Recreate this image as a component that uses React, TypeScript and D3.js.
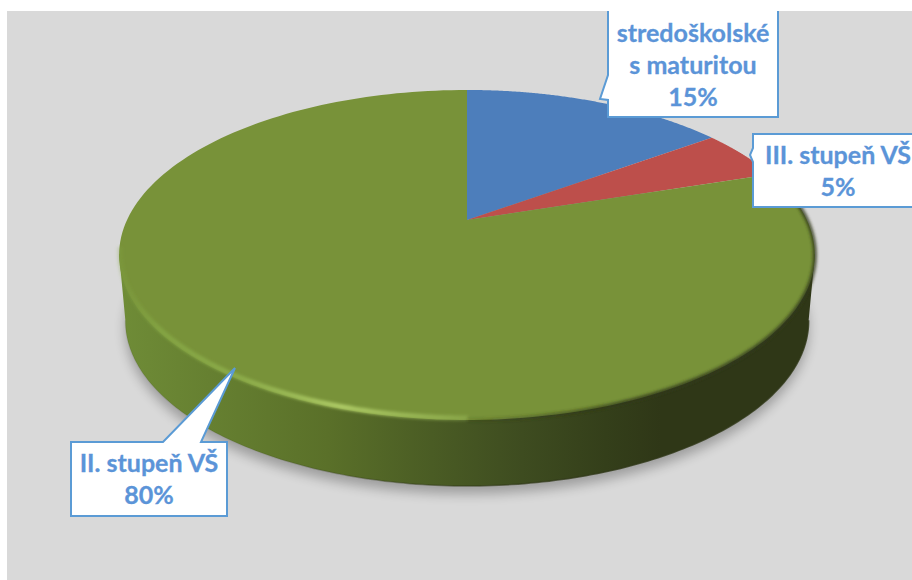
import React, { useMemo } from "react";
import * as d3 from "d3";

const categories = ["stredoškolské s maturitou", "III. stupeň VŠ", "II. stupeň VŠ"];
const shares = [15, 5, 80];
const sliceColors = ["#4d7ebb", "#bd4f4b", "#789239"];
const labelLines = [["stredoškolské", "s maturitou", "15%"], ["III. stupeň VŠ", "5%"], ["II. stupeň VŠ", "80%"]];

const W = 912, H = 580;
const apex = { x: 467, y: 220 };
const A = 340, B = 157.6, K = 0.212;
const depth = 66;
const baseScale = 0.982;

// perspective projection of the unit disc onto the page
const project = (angle: number): [number, number] => {
  const u = Math.sin(angle), v = -Math.cos(angle);
  const w = 1 - K * v;
  return [apex.x + (A * u) / w, apex.y + (B * v) / w];
};
const line = d3.line();
const sampleArc = (a0: number, a1: number) =>
  d3.range(0, 1.0001, 1 / 180).map((t) => project(a0 + (a1 - a0) * t));

const angles = d3.range(0, 360).map((d) => (d * Math.PI) / 180);
const rightA = angles[d3.greatestIndex(angles, (a) => project(a)[0])!];
const leftA = angles[d3.leastIndex(angles, (a) => project(a)[0])!];

const rimAll = sampleArc(0, Math.PI * 2);
const toBase = ([x, y]: [number, number]): [number, number] => [apex.x + (x - apex.x) * baseScale, y + depth];
const baseAll = rimAll.map(toBase);
const baseD = line(baseAll) + "Z";
const baseFront = sampleArc(rightA, leftA).map(toBase);
const wallD = line([project(rightA), ...baseFront, project(leftA)])! + "Z";

const calloutBoxes: { pts: [number, number][]; ty: number; cx: number }[] = [
  { pts: [[608, 9], [778, 9], [778, 117], [608, 117], [608, 100], [600, 99], [608, 75]], ty: 42, cx: 693 },
  { pts: [[753, 134], [925, 134], [925, 207], [753, 207], [753, 162], [750, 155], [753, 148]], ty: 164, cx: 838 },
  { pts: [[71, 442], [163, 442], [235, 368], [201, 442], [227, 442], [227, 516], [71, 516]], ty: 472, cx: 149 },
];
const lineHeight = 32;

export default function App() {
  const arcs = useMemo(
    () => d3.pie<number>().sort(null).startAngle(0).endAngle(Math.PI * 2)(shares),
    []
  );
  return (
    <svg width={W} height={H} style={{ position: "absolute", left: 0, top: 0, background: "#fff" }}>
      <defs>
        <linearGradient id="side" gradientUnits="userSpaceOnUse" x1="119" x2="814" y1="0" y2="0">
          <stop offset="0" stopColor="#6f8c37" />
          <stop offset="0.3" stopColor="#5a7029" />
          <stop offset="0.45" stopColor="#4a5c24" />
          <stop offset="0.58" stopColor="#3e4c20" />
          <stop offset="0.7" stopColor="#343f1a" />
          <stop offset="0.78" stopColor="#2f3717" />
          <stop offset="1" stopColor="#2f3717" />
        </linearGradient>
        <linearGradient id="hl" gradientUnits="userSpaceOnUse" x1="119" x2="520" y1="0" y2="0">
          <stop offset="0" stopColor="#7f9f3f" stopOpacity="0.3" />
          <stop offset="0.1" stopColor="#86a845" stopOpacity="0.8" />
          <stop offset="0.3" stopColor="#8fb04c" stopOpacity="0.85" />
          <stop offset="0.55" stopColor="#aecb66" stopOpacity="1" />
          <stop offset="0.8" stopColor="#a0c05c" stopOpacity="0.6" />
          <stop offset="1" stopColor="#a0c05c" stopOpacity="0" />
        </linearGradient>
        <linearGradient id="dk" gradientUnits="userSpaceOnUse" x1="430" x2="640" y1="0" y2="0">
          <stop offset="0" stopColor="#2f3717" stopOpacity="0" />
          <stop offset="1" stopColor="#2f3717" stopOpacity="0.8" />
        </linearGradient>
        <linearGradient id="edge" gradientUnits="userSpaceOnUse" x1="250" x2="600" y1="0" y2="0">
          <stop offset="0" stopColor="#2f3717" stopOpacity="0.1" />
          <stop offset="1" stopColor="#2f3717" stopOpacity="0.8" />
        </linearGradient>
        <filter id="b7" x="-10%" y="-10%" width="120%" height="120%"><feGaussianBlur stdDeviation="6" /></filter>
        <filter id="b2" x="-10%" y="-10%" width="120%" height="120%"><feGaussianBlur stdDeviation="1.8" /></filter>
        <clipPath id="panelClip"><rect x={7} y={11} width={W} height={H} /></clipPath>
      </defs>
      <rect x={7} y={11} width={W - 7} height={H - 11} fill="#d9d9d9" />
      <path d={baseD} transform="translate(0,8)" fill="#000" opacity={0.27} filter="url(#b7)" />
      {/* side wall */}
      <path d={wallD} fill="url(#side)" />
      <path d={line(baseFront)!} fill="none" stroke="url(#edge)" strokeWidth={1.5} />
      {/* top face, one slice per share */}
      <g>
        {arcs.map((a, i) => (
          <path
            key={categories[i]}
            d={(line([[apex.x, apex.y], ...sampleArc(a.startAngle, a.endAngle)]) ?? "") + "Z"}
            fill={sliceColors[i]}
          />
        ))}
      </g>
      {/* bevel: lit lower-left rim, dark right rim */}
      <path d={line(sampleArc(Math.PI, leftA + 0.03))!} fill="none" stroke="url(#hl)" strokeWidth={5} filter="url(#b2)" transform="translate(1,-2)" />
      <path d={line(sampleArc(Math.PI * 0.42, Math.PI))!} fill="none" stroke="url(#dk)" strokeWidth={4} filter="url(#b2)" />
      {/* callouts */}
      {calloutBoxes.map((b, i) => (
        <g key={i} clipPath="url(#panelClip)">
          <path d={line(b.pts)! + "Z"} fill="#fff" stroke="#5b9bd5" strokeWidth={2} />
          <text textAnchor="middle" fontFamily="Lato, 'Open Sans', sans-serif" fontWeight={700} fontSize={25} fill="#5b94d8" stroke="#5b94d8" strokeWidth={0.3}>
            {labelLines[i].map((t, j) => (
              <tspan key={j} x={b.cx} y={b.ty + j * lineHeight}>{t}</tspan>
            ))}
          </text>
        </g>
      ))}
    </svg>
  );
}
